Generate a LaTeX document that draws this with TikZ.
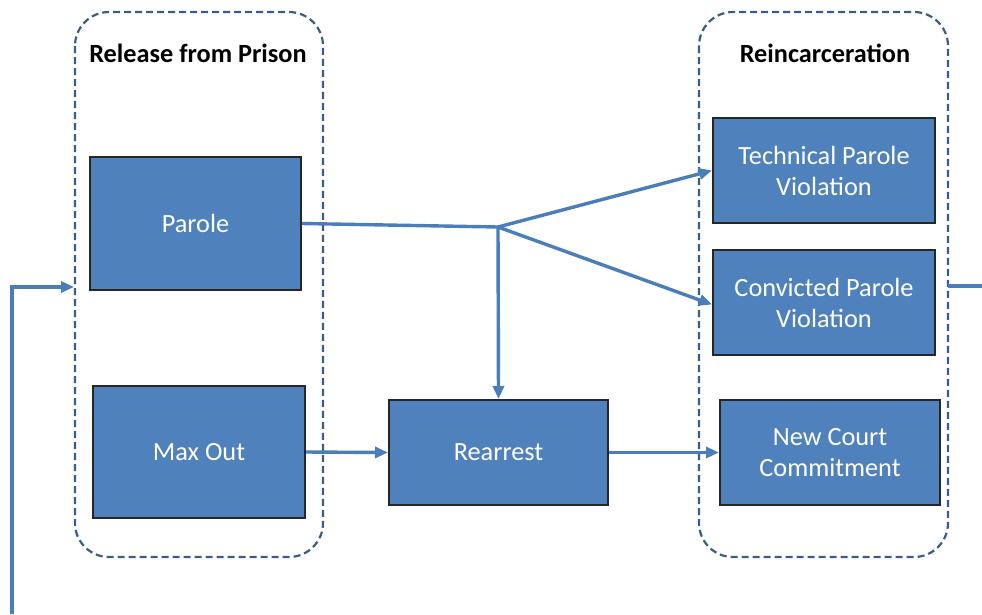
\documentclass[tikz,border=0pt]{standalone}
\usepackage{fontspec}
\setmainfont{Carlito}
\usetikzlibrary{arrows.meta}
\definecolor{boxfill}{HTML}{4F81BD}
\definecolor{linec}{HTML}{4A7EBB}
\definecolor{dashc}{HTML}{385D8A}
\tikzset{
  x=1pt,y=-1pt,
  container/.style={draw=dashc,line width=2.2pt,dash pattern=on 7pt off 4pt,rounded corners=34pt},
  bluebox/.style={draw=black!85,fill=boxfill,line width=2pt,text=white,font=\fontsize{26.3}{31}\selectfont,align=center,inner sep=0pt},
  conn/.style={draw=linec,line width=3.4pt},
  arr/.style={conn,-{Triangle[length=13pt,width=11pt]}},
  title/.style={font=\bfseries\fontsize{26.3}{30}\selectfont,text=black}
}
\begin{document}
\begin{tikzpicture}
\useasboundingbox (0,0) rectangle (982,614);
% containers
\draw[container] (75,12) rectangle (323,557);
\draw[container] (699,12) rectangle (948,557);
\node[title] (t1) at (198,53) {Release from Prison};
\node[title] (t2) at (825,53) {Reincarceration};
\coordinate (leftc) at (75,287);
\coordinate (rightc) at (948,286);
% boxes
\node[bluebox,minimum width=211pt,minimum height=133pt] (parole) at (195.5,223.5) {Parole};
\node[bluebox,minimum width=212pt,minimum height=132pt] (maxout) at (199,452) {Max Out};
\node[bluebox,minimum width=219pt,minimum height=105pt] (rearrest) at (498.5,452.5) {Rearrest};
\node[bluebox,minimum width=222pt,minimum height=105pt] (tech) at (824,170.5) {Technical Parole\\Violation};
\node[bluebox,minimum width=222pt,minimum height=105pt] (conv) at (824,302.5) {Convicted Parole\\Violation};
\node[bluebox,minimum width=220pt,minimum height=105pt] (newc) at (830,452.5) {New Court\\Commitment};
% connectors
\coordinate (j) at (498,227);
\draw[conn] (parole.east) -- (j);
\draw[arr] (j) -- (tech.west);
\draw[arr] (j) -- ([yshift=-2pt]conv.west);
\draw[arr] (j) -- (rearrest.north);
\draw[arr] (maxout.east) -- (rearrest.west);
\draw[arr] (rearrest.east) -- (newc.west);
\coordinate (rend) at (982,286);
\draw[conn] (rightc) -- (rend);
\coordinate (lstart) at (12,614);
\coordinate (lcorner) at (12,287);
\draw[arr] (lstart) -- (lcorner) -- ([xshift=-1pt]leftc);
\end{tikzpicture}
\end{document}
